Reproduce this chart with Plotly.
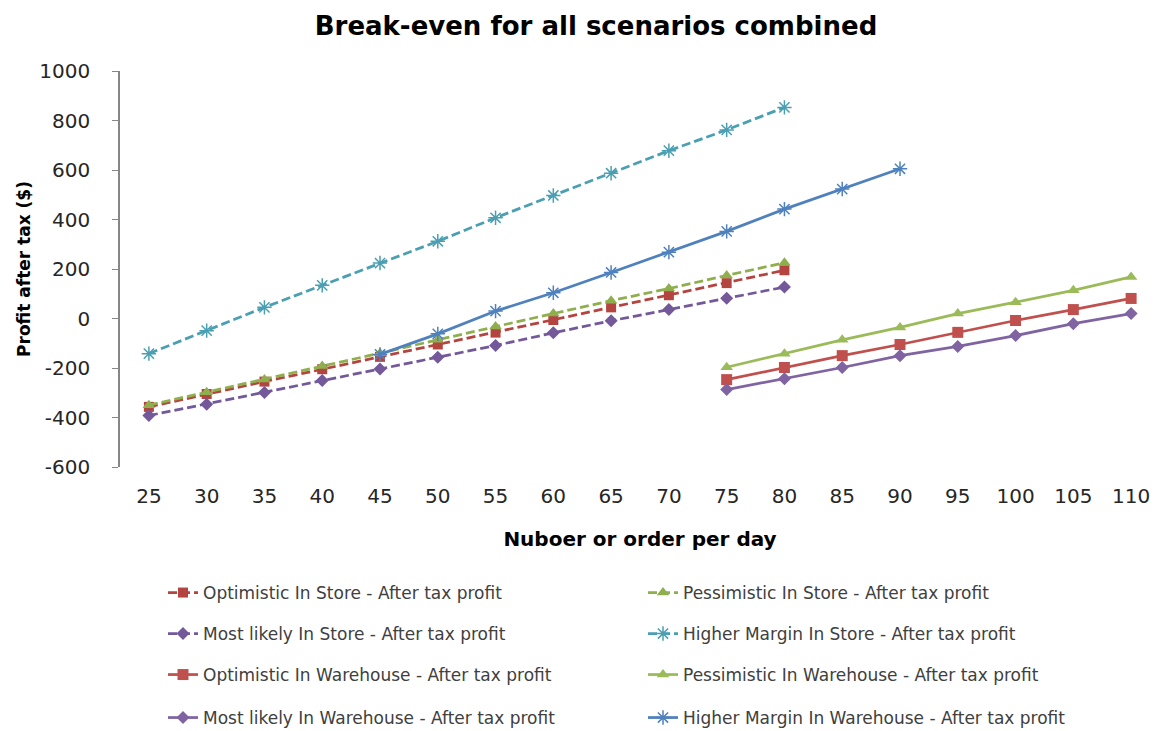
import plotly.graph_objects as go

categories = [25, 30, 35, 40, 45, 50, 55, 60, 65, 70, 75, 80, 85, 90, 95, 100, 105, 110]

store_x = [25, 30, 35, 40, 45, 50, 55, 60, 65, 70, 75, 80]
optimistic_store = [-357, -305, -255, -205, -155, -105, -57, -6, 45, 94, 143, 195]
pessimistic_store = [-350, -298, -246, -192, -140, -86, -32, 20, 72, 121, 174, 225]
most_likely_store = [-392, -346, -299, -251, -204, -157, -109, -58, -9, 36, 82, 127]
higher_margin_store = [-142, -49, 45, 134, 224, 312, 407, 497, 587, 678, 762, 853]

wh_x = [75, 80, 85, 90, 95, 100, 105, 110]
optimistic_wh = [-247, -198, -150, -105, -56, -8, 36, 81]
pessimistic_wh = [-197, -142, -86, -36, 20, 66, 114, 168]
most_likely_wh = [-287, -243, -198, -150, -113, -69, -21, 20]

hm_wh_x = [45, 50, 55, 60, 65, 70, 75, 80, 85, 90]
higher_margin_wh = [-145, -62, 30, 104, 186, 268, 352, 442, 523, 605]

y_ticks = [-600, -400, -200, 0, 200, 400, 600, 800, 1000]
y_tick_labels = ["-600", "-400", "-200", "0", "200", "400", "600", "800", "1000"]

RED = "#C0504D"
GREEN = "#9BBB59"
PURPLE = "#8064A2"
TEAL = "#4BACC6"
BLUE = "#4F81BD"
DASH = "9px,4px"

series = [
    ("Optimistic In Store - After tax profit", store_x, optimistic_store, "#B4443F", DASH, "square", 10, "legend"),
    ("Pessimistic In Store - After tax profit", store_x, pessimistic_store, "#8FAF4E", DASH, "triangle-up", 11, "legend"),
    ("Most likely In Store - After tax profit", store_x, most_likely_store, "#73589A", DASH, "diamond", 10, "legend2"),
    ("Higher Margin In Store - After tax profit", store_x, higher_margin_store, "#4A9FB2", DASH, "asterisk-open", 12, "legend2"),
    ("Optimistic In Warehouse - After tax profit", wh_x, optimistic_wh, RED, "solid", "square", 11, "legend3"),
    ("Pessimistic In Warehouse - After tax profit", wh_x, pessimistic_wh, GREEN, "solid", "triangle-up", 11, "legend3"),
    ("Most likely In Warehouse - After tax profit", wh_x, most_likely_wh, PURPLE, "solid", "diamond", 10, "legend4"),
    ("Higher Margin In Warehouse - After tax profit", hm_wh_x, higher_margin_wh, BLUE, "solid", "asterisk-open", 12, "legend4"),
]

fig = go.Figure()
for name, xs, ys, col, dash, sym, size, leg in series:
    marker = dict(symbol=sym, size=size, color=col)
    if sym.endswith("open"):
        marker["line"] = dict(color=col, width=1.5)
    fig.add_trace(go.Scatter(
        x=[str(v) for v in xs], y=ys, name=name, mode="lines+markers",
        line=dict(color=col, width=2.75, dash=dash),
        marker=marker, legend=leg,
    ))

FONT = "'DejaVu Sans', sans-serif"
AX = "#868686"
TXT = "#262626"

# page body has an 8px margin: figure coordinates = screenshot coordinates - 8
OFF = 8
W, H = 1162 - OFF, 731 - OFF
ml, mt = 120 - OFF, 71 - OFF
mb = H - (467 - OFF)
mr = W - (1160 - OFF)
plot_w = W - ml - mr


def leg(ypx):
    return dict(orientation="h", x=(155 - ml) / plot_w, xanchor="left",
                yref="container", y=1 - (ypx - OFF) / H, yanchor="middle",
                entrywidth=435, entrywidthmode="pixels",
                font=dict(family=FONT, size=17, color="#404040"),
                bgcolor="rgba(0,0,0,0)", traceorder="normal")


fig.update_layout(
    width=W, height=H,
    margin=dict(l=ml, r=mr, t=mt, b=mb, autoexpand=False),
    plot_bgcolor="white", paper_bgcolor="white",
    title=dict(text="<b>Break-even for all scenarios combined</b>", x=(596 - OFF) / W, xanchor="center",
               y=1 - (26 - OFF) / H, yanchor="middle",
               font=dict(family=FONT, size=26, color="#000000")),
    font=dict(family=FONT, color=TXT),
    xaxis=dict(type="category", categoryorder="array",
               categoryarray=[str(c) for c in categories],
               range=[-0.5, len(categories) - 0.5],
               showline=False, ticks="", showgrid=False, zeroline=False,
               ticklabelstandoff=15,
               tickfont=dict(family=FONT, size=20, color=TXT),
               title=dict(text="<b>Nuboer or order per day</b>", standoff=24,
                          font=dict(family=FONT, size=20, color="#000000"))),
    xaxis2=dict(overlaying="x", anchor="free", position=600 / 1600, type="linear",
                range=[-0.5, len(categories) - 0.5],
                tickvals=[i + 0.5 for i in range(len(categories))],
                showticklabels=False, ticks="outside", ticklen=6, tickcolor=AX,
                showline=True, linecolor=AX, linewidth=1.5, showgrid=False, zeroline=False),
    yaxis=dict(range=[-600, 1000], tickvals=y_ticks, ticktext=y_tick_labels,
               showline=True, linecolor=AX, linewidth=1.5,
               ticks="outside", ticklen=6, tickcolor=AX, showgrid=False, zeroline=False,
               ticklabelstandoff=18,
               tickfont=dict(family=FONT, size=20, color=TXT),
               title=dict(text="<b>Profit after tax ($)</b>", standoff=4,
                          font=dict(family=FONT, size=17, color="#000000"))),
    legend=leg(593), legend2=leg(634), legend3=leg(675), legend4=leg(718),
)

fig.write_html("out.html")
